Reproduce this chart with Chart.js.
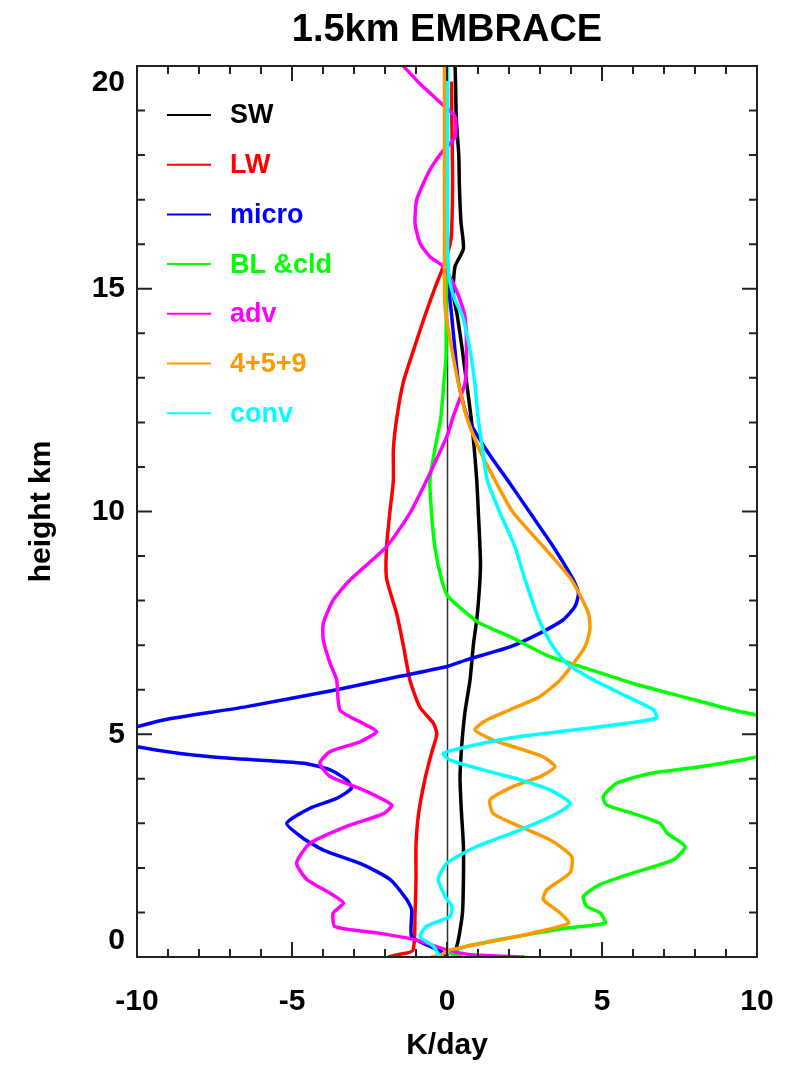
<!DOCTYPE html>
<html>
<head>
<meta charset="utf-8">
<style>
html,body{margin:0;padding:0;background:#fff;}
#wrap{width:792px;height:1070px;}
</style>
<script src="https://cdn.jsdelivr.net/npm/chart.js@4/dist/chart.umd.min.js"></script>
</head>
<body>
<div id="wrap"><canvas id="c" width="792" height="1070"></canvas></div>
<script>
// ---------- data (heights in km, values in K/day) ----------
const chartTitle = '1.5km EMBRACE';
const xTitle = 'K/day';
const yTitle = 'height km';
const xTickLabels = ['-10', '-5', '0', '5', '10'];
const yTickLabels = ['0', '5', '10', '15', '20'];
const seriesNames = ['SW', 'LW', 'micro', 'BL &cld', 'adv', '4+5+9', 'conv'];

const swH = [0, 0.1, 0.4, 1.0, 1.75, 2.5, 3.2, 4.0, 4.7, 5.5, 6.2, 7.0, 7.7, 8.8, 10.0, 10.7, 11.4, 12.1, 12.9, 13.6, 14.4, 14.9, 15.5, 15.9, 16.5, 17.3, 18.0, 18.8, 19.5, 20];
const swX = [0.2, 0.26, 0.37, 0.5, 0.53, 0.53, 0.47, 0.42, 0.47, 0.58, 0.74, 0.85, 0.98, 1.08, 1.01, 0.96, 0.88, 0.78, 0.63, 0.5, 0.33, 0.2, 0.26, 0.53, 0.45, 0.4, 0.38, 0.3, 0.28, 0.26];

const lwH = [0, 0.05, 0.15, 1.0, 1.75, 2.5, 3.2, 4.0, 4.6, 5.0, 5.25, 5.6, 6.2, 7.0, 7.7, 8.5, 9.2, 10.0, 10.7, 11.4, 12.1, 12.9, 13.6, 14.4, 15.0, 15.5, 16.0, 16.3, 17.5, 19.0, 19.65];
const lwX = [-1.9, -1.6, -1.1, -1.03, -1.0, -1.0, -0.92, -0.71, -0.49, -0.33, -0.44, -0.87, -1.19, -1.41, -1.62, -1.95, -1.95, -1.84, -1.73, -1.73, -1.62, -1.41, -1.09, -0.71, -0.4, -0.12, 0.1, 0.15, 0.18, 0.15, 0.15];

const microH = [0, 0.05, 0.24, 0.46, 1.06, 1.29, 1.74, 2.07, 2.4, 2.66, 3.0, 3.34, 3.56, 3.79, 3.98, 4.2, 4.35, 4.46, 4.57, 4.72, 4.95, 5.17, 5.32, 5.62, 6.0, 6.3, 6.52, 6.67, 6.96, 7.27, 7.57, 7.87, 8.16, 8.46, 9.21, 9.97, 10.63, 11.37, 12.13, 12.9, 13.6, 14.4, 15.5, 20];
const microX = [-0.1, 0.0, -0.55, -1.14, -1.14, -1.3, -1.84, -2.7, -3.99, -4.63, -5.17, -4.42, -3.56, -3.08, -3.24, -3.77, -4.63, -7.0, -8.61, -10.0, -11.5, -10.0, -9.15, -6.46, -3.56, -1.52, 0.0, 0.63, 2.03, 3.0, 3.75, 4.13, 4.24, 4.08, 3.43, 2.68, 2.03, 1.28, 0.65, 0.37, 0.26, 0.15, 0.0, 0.0];

const blH = [0, 0.09, 0.24, 0.46, 0.65, 0.76, 0.99, 1.14, 1.36, 1.63, 1.89, 2.18, 2.48, 2.78, 3.0, 3.22, 3.41, 3.6, 3.9, 4.12, 4.27, 4.49, 4.95, 5.43, 5.54, 5.84, 6.14, 6.48, 6.74, 7.19, 7.49, 7.72, 8.09, 8.46, 9.2, 9.97, 10.7, 11.4, 12.1, 12.9, 13.5, 20];
const blX = [0.5, 0.1, 0.63, 2.25, 3.86, 5.1, 4.94, 4.5, 4.4, 4.94, 6.01, 7.3, 7.68, 7.1, 6.87, 6.01, 5.15, 5.04, 5.47, 6.55, 8.16, 10.0, 12.5, 10.0, 9.24, 7.62, 6.01, 4.5, 3.32, 2.03, 1.06, 0.63, 0.04, -0.17, -0.39, -0.5, -0.55, -0.39, -0.2, -0.1, -0.03, 0.0];

const advH = [0, 0.05, 0.16, 0.38, 0.53, 0.68, 0.99, 1.21, 1.43, 1.74, 2.11, 2.55, 2.93, 3.22, 3.41, 3.75, 4.05, 4.35, 4.61, 4.83, 5.06, 5.24, 5.54, 6.22, 6.59, 7.11, 7.49, 8.01, 8.46, 9.21, 9.97, 10.71, 11.02, 11.69, 12.13, 12.88, 13.63, 14.38, 14.75, 15.12, 15.5, 15.72, 16.02, 16.47, 16.99, 17.37, 17.74, 18.1, 18.4, 18.86, 19.08, 19.6, 20];
const advX = [2.5, 0.8, 0.0, -0.98, -2.16, -3.61, -3.67, -3.34, -3.77, -4.52, -4.85, -4.42, -3.24, -2.05, -1.78, -2.7, -3.77, -4.1, -3.77, -2.81, -2.27, -2.7, -3.45, -3.56, -3.77, -3.99, -3.99, -3.67, -3.13, -1.95, -1.19, -0.65, -0.44, 0.0, 0.2, 0.58, 0.63, 0.58, 0.42, 0.2, -0.12, -0.55, -0.87, -1.03, -0.98, -0.76, -0.49, -0.12, 0.26, 0.26, -0.06, -0.87, -1.41];

const sumH = [0, 0.05, 0.16, 0.31, 0.54, 0.76, 0.99, 1.29, 1.51, 1.89, 2.26, 2.63, 2.93, 3.22, 3.53, 3.83, 4.05, 4.27, 4.49, 4.72, 4.87, 5.1, 5.32, 5.55, 5.85, 6.22, 6.59, 6.96, 7.35, 7.72, 8.46, 9.21, 9.97, 10.7, 11.37, 12.13, 12.87, 13.25, 13.85, 14.5, 15, 20];
const sumX = [-0.5, -0.2, 0.1, 1.17, 2.78, 3.92, 3.65, 3.11, 3.22, 3.97, 4.02, 3.32, 2.35, 1.49, 1.39, 2.14, 3.0, 3.48, 3.11, 2.14, 1.49, 0.9, 1.28, 2.03, 3.0, 3.65, 4.08, 4.45, 4.61, 4.56, 4.02, 3.11, 2.14, 1.55, 1.06, 0.63, 0.37, 0.26, 0.1, -0.05, -0.08, -0.08];

const convH = [0, 0.24, 0.46, 0.69, 0.91, 1.14, 1.36, 1.74, 2.11, 2.48, 2.85, 3.22, 3.45, 3.75, 3.98, 4.2, 4.42, 4.57, 4.72, 4.94, 5.17, 5.36, 5.55, 5.85, 6.22, 6.59, 6.96, 7.35, 7.72, 8.46, 9.21, 9.97, 10.7, 11.37, 12.13, 12.87, 13.63, 14.38, 14.75, 15.2, 16, 20];
const convX = [-0.23, -0.44, -0.87, -0.66, 0.1, 0.15, -0.06, -0.28, 0.0, 0.96, 2.35, 3.54, 3.97, 3.32, 2.35, 1.17, 0.1, -0.12, 0.63, 2.25, 4.94, 6.76, 6.66, 5.8, 4.72, 3.86, 3.43, 3.11, 2.89, 2.52, 2.19, 1.71, 1.3, 1.15, 1.0, 0.9, 0.74, 0.5, 0.26, 0.08, 0.02, 0.02];

const seriesColors = ['#000000', '#ff0000', '#0000ff', '#00ff00', '#ff00ff', '#ff9900', '#00ffff'];
const seriesHeights = [swH, lwH, microH, blH, advH, sumH, convH];
const seriesValues = [swX, lwX, microX, blX, advX, sumX, convX];

// ---------- styling ----------
const FONT = '"Liberation Sans", Arial, Helvetica, sans-serif';

const datasets = seriesNames.map((name, i) => ({
  label: name,
  data: seriesHeights[i].map((h, j) => ({ x: seriesValues[i][j], y: h })),
  borderColor: seriesColors[i],
  backgroundColor: seriesColors[i],
  borderWidth: 3.5,
  pointRadius: 0,
  pointHoverRadius: 0,
  showLine: true,
  fill: false,
  tension: 0.2,
  order: seriesNames.length - i
}));

// zero reference line + frame with inward ticks on all four sides
const framePlugin = {
  id: 'frameTicks',
  beforeDatasetsDraw(chart) {
    const { ctx, chartArea: a, scales: { x } } = chart;
    const px = Math.round(x.getPixelForValue(0)) + 0.5;
    ctx.save();
    ctx.strokeStyle = '#333';
    ctx.lineWidth = 1.5;
    ctx.beginPath();
    ctx.moveTo(px, a.top);
    ctx.lineTo(px, a.bottom);
    ctx.stroke();
    ctx.restore();
  },
  afterDatasetsDraw(chart) {
    const { ctx, chartArea: a, scales: { x, y } } = chart;
    ctx.save();
    ctx.strokeStyle = '#222';
    ctx.lineWidth = 2;
    ctx.beginPath();
    ctx.moveTo(a.left, a.top);
    ctx.lineTo(a.right, a.top);
    ctx.lineTo(a.right, a.bottom);
    ctx.lineTo(a.left, a.bottom);
    ctx.lineTo(a.left, a.top);
    ctx.stroke();
    ctx.beginPath();
    for (let v = x.min; v <= x.max; v += 1) {
      const p = x.getPixelForValue(v);
      const L = (v % 5 === 0) ? 15 : 8;
      ctx.moveTo(p, a.bottom); ctx.lineTo(p, a.bottom - L);
      ctx.moveTo(p, a.top); ctx.lineTo(p, a.top + L);
    }
    for (let v = y.min; v <= y.max; v += 1) {
      const p = y.getPixelForValue(v);
      const L = (v % 5 === 0) ? 15 : 8;
      ctx.moveTo(a.left, p); ctx.lineTo(a.left + L, p);
      ctx.moveTo(a.right, p); ctx.lineTo(a.right - L, p);
    }
    ctx.stroke();
    ctx.restore();
  }
};

// IDL-style legend inside the plot, top-left
const legendPlugin = {
  id: 'idlLegend',
  afterDraw(chart) {
    const { ctx } = chart;
    ctx.save();
    ctx.font = 'bold 27px ' + FONT;
    ctx.textBaseline = 'middle';
    ctx.textAlign = 'left';
    chart.data.datasets.forEach((ds, i) => {
      const yy = 115 + i * 49.7;
      ctx.strokeStyle = ds.borderColor;
      ctx.lineWidth = 2;
      ctx.beginPath();
      ctx.moveTo(167, yy);
      ctx.lineTo(211, yy);
      ctx.stroke();
      ctx.fillStyle = ds.borderColor;
      ctx.fillText(ds.label, 230, yy + 1);
    });
    ctx.restore();
  }
};

const tickFont = { family: FONT, size: 30, weight: 'bold', lineHeight: 1.1 };

new Chart(document.getElementById('c').getContext('2d'), {
  type: 'scatter',
  data: { datasets },
  options: {
    responsive: false,
    animation: false,
    devicePixelRatio: 1,
    layout: { padding: { left: 0, right: 35, top: 0, bottom: 0 } },
    plugins: {
      legend: { display: false },
      tooltip: { enabled: false },
      title: {
        display: true,
        text: chartTitle,
        fullSize: false,
        color: '#000',
        font: { family: FONT, size: 38, weight: 'bold', lineHeight: 1 },
        padding: { top: 12, bottom: 16 }
      }
    },
    scales: {
      x: {
        type: 'linear',
        position: 'bottom',
        min: -10,
        max: 10,
        grid: { display: false, drawTicks: false },
        border: { display: true, color: '#222', width: 2 },
        ticks: {
          stepSize: 5,
          padding: 28,
          color: '#000',
          font: tickFont,
          maxRotation: 0,
          callback: (v) => xTickLabels[Math.round((v + 10) / 5)]
        },
        title: {
          display: true,
          text: xTitle,
          color: '#000',
          font: { family: FONT, size: 30, weight: 'bold', lineHeight: 1.1 },
          padding: { top: 0, bottom: 8 }
        },
        afterFit: (s) => { s.height = 113; s.paddingLeft = 0; s.paddingRight = 0; }
      },
      y: {
        type: 'linear',
        position: 'left',
        min: 0,
        max: 20,
        grid: { display: false, drawTicks: false },
        border: { display: true, color: '#222', width: 2 },
        ticks: {
          stepSize: 5,
          padding: 12,
          color: '#000',
          font: tickFont,
          callback: (v) => {
            const lab = yTickLabels[Math.round(v / 5)];
            if (v === 20) return ['', lab];
            if (v === 0) return [lab, ''];
            return lab;
          }
        },
        title: {
          display: true,
          text: yTitle,
          color: '#000',
          font: { family: FONT, size: 30, weight: 'bold', lineHeight: 1.1 },
          padding: { top: 25, bottom: 0 }
        },
        afterFit: (s) => { s.width = 137; s.paddingTop = 0; s.paddingBottom = 0; }
      }
    }
  },
  plugins: [framePlugin, legendPlugin]
});
</script>
</body>
</html>
